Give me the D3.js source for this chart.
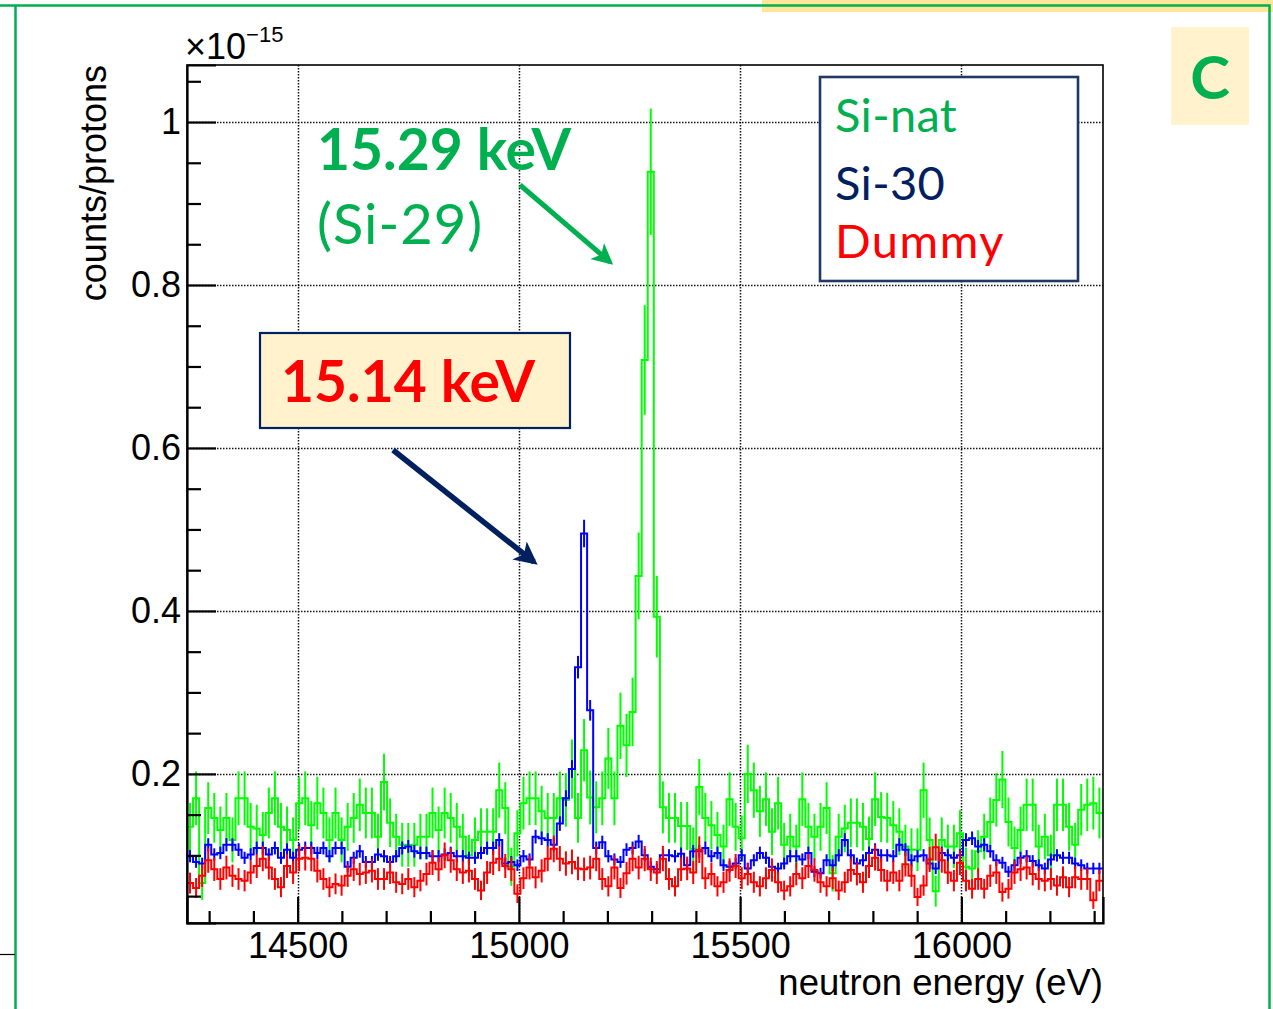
<!DOCTYPE html>
<html>
<head>
<meta charset="utf-8">
<script src="https://cdn.jsdelivr.net/npm/d3@7"></script>
<style>
  body { margin: 0; background: #fff; }
  svg { display: block; }
  .root-text { font-family: "Liberation Sans", Arial, Helvetica, sans-serif; fill: #000; }
  .office-text { font-family: Lato, "Open Sans", sans-serif; }
</style>
</head>
<body>
<div id="chart"></div>
<script>

// histogram binning (eV)
var binStart = 14250;
var binWidth = 13.7;

// counts/protons per bin, in units of 1e-15
var siNat = [
	0.135, 0.17, 0.066, 0.158, 0.146, 0.131, 0.146, 0.119, 0.17, 0.17,
	0.135, 0.133, 0.125, 0.152, 0.17, 0.135, 0.131, 0.119, 0.164, 0.17,
	0.137, 0.164, 0.152, 0.119, 0.152, 0.119, 0.135, 0.146, 0.162, 0.152,
	0.152, 0.123, 0.19, 0.14, 0.123, 0.113, 0.113, 0.113, 0.123, 0.123,
	0.152, 0.131, 0.152, 0.146, 0.135, 0.123, 0.1, 0.119, 0.129, 0.129,
	0.129, 0.18, 0.158, 0.086, 0.127, 0.164, 0.17, 0.17, 0.154, 0.146,
	0.146, 0.17, 0.168, 0.206, 0.146, 0.229, 0.171, 0.159, 0.17, 0.219,
	0.17, 0.259, 0.235, 0.276, 0.443, 0.708, 0.939, 0.393, 0.159, 0.146,
	0.146, 0.136, 0.136, 0.108, 0.184, 0.146, 0.137, 0.125, 0.111, 0.169,
	0.135, 0.121, 0.2, 0.18, 0.154, 0.169, 0.129, 0.164, 0.113, 0.123,
	0.111, 0.169, 0.135, 0.123, 0.135, 0.158, 0.078, 0.123, 0.133, 0.14,
	0.14, 0.135, 0.12, 0.169, 0.147, 0.146, 0.137, 0.129, 0.111, 0.107,
	0.107, 0.18, 0.119, 0.056, 0.119, 0.111, 0.111, 0.127, 0.086, 0.084,
	0.105, 0.123, 0.141, 0.168, 0.193, 0.141, 0.109, 0.131, 0.162, 0.162,
	0.111, 0.123, 0.1, 0.162, 0.162, 0.135, 0.113, 0.156, 0.162, 0.164,
	0.152
];

var si30 = [
	0.099, 0.092, 0.09, 0.113, 0.101, 0.103, 0.113, 0.113, 0.107, 0.097,
	0.101, 0.109, 0.109, 0.101, 0.109, 0.097, 0.107, 0.097, 0.107, 0.109,
	0.109, 0.103, 0.109, 0.099, 0.109, 0.109, 0.086, 0.097, 0.105, 0.092,
	0.092, 0.101, 0.099, 0.092, 0.099, 0.109, 0.111, 0.105, 0.103, 0.103,
	0.099, 0.099, 0.101, 0.103, 0.099, 0.099, 0.097, 0.097, 0.103, 0.109,
	0.109, 0.119, 0.09, 0.092, 0.088, 0.099, 0.095, 0.123, 0.121, 0.119,
	0.113, 0.139, 0.17, 0.206, 0.331, 0.495, 0.278, 0.109, 0.116, 0.099,
	0.095, 0.092, 0.107, 0.109, 0.117, 0.1, 0.086, 0.083, 0.1, 0.1,
	0.099, 0.102, 0.088, 0.105, 0.105, 0.109, 0.099, 0.103, 0.088, 0.086,
	0.09, 0.1, 0.084, 0.094, 0.103, 0.097, 0.086, 0.084, 0.09, 0.099,
	0.099, 0.095, 0.103, 0.08, 0.078, 0.094, 0.088, 0.1, 0.119, 0.1,
	0.09, 0.094, 0.103, 0.107, 0.1, 0.1, 0.099, 0.113, 0.107, 0.094,
	0.099, 0.1, 0.09, 0.084, 0.103, 0.1, 0.097, 0.1, 0.119, 0.121,
	0.111, 0.113, 0.105, 0.094, 0.091, 0.08, 0.088, 0.097, 0.099, 0.093,
	0.088, 0.084, 0.095, 0.1, 0.097, 0.097, 0.09, 0.088, 0.084, 0.084,
	0.084
];

var dummy = [
	0.066, 0.06, 0.075, 0.094, 0.083, 0.071, 0.085, 0.075, 0.071, 0.069,
	0.079, 0.087, 0.096, 0.085, 0.071, 0.061, 0.087, 0.079, 0.096, 0.097,
	0.096, 0.081, 0.071, 0.061, 0.065, 0.063, 0.075, 0.083, 0.077, 0.079,
	0.081, 0.071, 0.071, 0.079, 0.067, 0.065, 0.071, 0.061, 0.069, 0.077,
	0.091, 0.083, 0.1, 0.094, 0.083, 0.079, 0.081, 0.071, 0.057, 0.079,
	0.091, 0.096, 0.087, 0.083, 0.053, 0.072, 0.085, 0.073, 0.081, 0.096,
	0.108, 0.096, 0.09, 0.092, 0.084, 0.083, 0.085, 0.096, 0.071, 0.062,
	0.085, 0.06, 0.078, 0.096, 0.085, 0.096, 0.083, 0.079, 0.096, 0.071,
	0.062, 0.083, 0.084, 0.079, 0.107, 0.072, 0.077, 0.062, 0.067, 0.082,
	0.087, 0.072, 0.077, 0.067, 0.062, 0.072, 0.082, 0.067, 0.057, 0.062,
	0.077, 0.072, 0.087, 0.082, 0.067, 0.062, 0.072, 0.057, 0.067, 0.082,
	0.077, 0.067, 0.087, 0.097, 0.082, 0.069, 0.079, 0.069, 0.089, 0.075,
	0.049, 0.063, 0.095, 0.11, 0.094, 0.079, 0.069, 0.091, 0.069, 0.059,
	0.071, 0.059, 0.075, 0.079, 0.055, 0.059, 0.079, 0.083, 0.085, 0.077,
	0.071, 0.069, 0.071, 0.063, 0.073, 0.061, 0.073, 0.071, 0.071, 0.045,
	0.069
];

// statistical error scale per sample (error = k * sqrt(value))
var errScale = { siNat: 0.08, si30: 0.024, dummy: 0.05 };

var seriesNames = ["Si-nat", "Si-30", "Dummy"];

var yMajor = [0.2, 0.4, 0.6, 0.8, 1.0];
var yMinor = [0.05, 0.1, 0.15, 0.25, 0.3, 0.35, 0.45, 0.5, 0.55, 0.65, 0.7, 0.75, 0.85, 0.9, 0.95, 1.05];
var xMajor = [14500, 15000, 15500, 16000];
var xMinor = [14300, 14400, 14600, 14700, 14800, 14900, 15100, 15200, 15300, 15400,
	15600, 15700, 15800, 15900, 16100, 16200, 16300];

var colors = {
	green: "#00b050",
	navy: "#002060",
	red: "#ff0000",
	boxFill: "#fff2cc"
};

function init() {

	var width = 1273;
	var height = 1009;

	var svg = d3.select("#chart")
		.append("svg")
		.attr("width", width)
		.attr("height", height);

	drawSlideFrame(svg, width, height);
	drawHistogramPad(svg);
	drawAnnotations(svg);
}

/**
 * slide decoration: green border, yellow strip and the panel letter
 */
function drawSlideFrame(svg, width, height) {

	svg.append("rect")
		.attr("x", 762).attr("y", 0)
		.attr("width", width - 762).attr("height", 12)
		.attr("fill", "#ffe699");

	svg.append("path")
		.attr("d", "M0,5.5 H1269.5 V" + height + " M15.5,5.5 V" + height)
		.attr("fill", "none")
		.attr("stroke", colors.green)
		.attr("stroke-width", 2.5);

	svg.append("line")
		.attr("x1", 0).attr("x2", 15)
		.attr("y1", 954.5).attr("y2", 954.5)
		.attr("stroke", "#000")
		.attr("stroke-width", 1.2);

	svg.append("rect")
		.attr("x", 1171).attr("y", 27)
		.attr("width", 78).attr("height", 98)
		.attr("fill", colors.boxFill);

	svg.append("text")
		.attr("class", "office-text")
		.attr("x", 1210).attr("y", 99)
		.attr("text-anchor", "middle")
		.attr("font-size", 60)
		.attr("font-weight", "bold")
		.attr("fill", colors.green)
		.text("C");
}

/**
 * ROOT style canvas: frame, axes, grid and the three histograms
 */
function drawHistogramPad(svg) {

	var left = 187, right = 1103, top = 65, bottom = 923;

	var x = d3.scaleLinear().domain([14250, 16320]).range([left, right]);
	var y = d3.scaleLinear().domain([0.017, 1.07]).range([bottom, top]);

	var pad = svg.append("g");

	// dotted grid at the major ticks
	pad.append("g")
		.selectAll("line.gx")
		.data(xMajor)
		.enter()
		.append("line")
		.attr("x1", function(d) { return Math.round(x(d)) + 0.5; })
		.attr("x2", function(d) { return Math.round(x(d)) + 0.5; })
		.attr("y1", top).attr("y2", bottom)
		.attr("stroke", "#111")
		.attr("stroke-width", 1.5)
		.attr("stroke-dasharray", "1.5,1.5");

	pad.append("g")
		.selectAll("line.gy")
		.data(yMajor)
		.enter()
		.append("line")
		.attr("x1", left).attr("x2", right)
		.attr("y1", function(d) { return Math.round(y(d)) + 0.5; })
		.attr("y2", function(d) { return Math.round(y(d)) + 0.5; })
		.attr("stroke", "#111")
		.attr("stroke-width", 1.5)
		.attr("stroke-dasharray", "1.5,1.5");

	// histograms, clipped to the frame
	svg.append("clipPath")
		.attr("id", "frameClip")
		.append("rect")
		.attr("x", left).attr("y", top)
		.attr("width", right - left).attr("height", bottom - top);

	var hists = pad.append("g").attr("clip-path", "url(#frameClip)");

	drawHist(hists, siNat, errScale.siNat, "#00ff00", x, y);
	drawHist(hists, si30, errScale.si30, "#0000ff", x, y);
	drawHist(hists, dummy, errScale.dummy, "#ff0000", x, y);

	// frame
	pad.append("rect")
		.attr("x", left).attr("y", top)
		.attr("width", right - left).attr("height", bottom - top)
		.attr("fill", "none")
		.attr("stroke", "#000")
		.attr("stroke-width", 1.6);

	// y axis: major + minor ticks pointing inside
	var yAxis = d3.axisLeft(y)
		.tickValues(yMajor)
		.tickSize(-29)
		.tickPadding(6)
		.tickFormat(function(d) { return d === 1 ? "1" : d3.format(".1f")(d); });

	var yMinorAxis = d3.axisLeft(y)
		.tickValues(yMinor)
		.tickSize(-14)
		.tickFormat("");

	pad.append("g")
		.attr("transform", "translate(" + left + ",0)")
		.call(yAxis);
	pad.append("g")
		.attr("transform", "translate(" + left + ",0)")
		.call(yMinorAxis)
		.select(".domain").remove();

	// x axis
	var xAxis = d3.axisBottom(x)
		.tickValues(xMajor)
		.tickSize(-26)
		.tickPadding(9)
		.tickFormat(d3.format("d"));

	var xMinorAxis = d3.axisBottom(x)
		.tickValues(xMinor)
		.tickSize(-12)
		.tickFormat("");

	pad.append("g")
		.attr("transform", "translate(0," + bottom + ")")
		.call(xAxis);
	pad.append("g")
		.attr("transform", "translate(0," + bottom + ")")
		.call(xMinorAxis)
		.select(".domain").remove();

	pad.selectAll(".domain, .tick line")
		.attr("stroke", "#000")
		.attr("stroke-width", 2.2);

	pad.selectAll(".tick text")
		.attr("class", "root-text")
		.attr("font-size", 36)
		.attr("fill", "#000");

	// axis titles
	pad.append("text")
		.attr("class", "root-text")
		.attr("x", right).attr("y", 995)
		.attr("text-anchor", "end")
		.attr("font-size", 36.5)
		.text("neutron energy (eV)");

	pad.append("text")
		.attr("class", "root-text")
		.attr("transform", "translate(106," + top + ") rotate(-90)")
		.attr("text-anchor", "end")
		.attr("font-size", 36)
		.text("counts/protons");

	// common exponent of the y axis
	var expo = pad.append("text")
		.attr("class", "root-text")
		.attr("x", left - 2).attr("y", 59)
		.attr("font-size", 36);
	expo.append("tspan").text("\u00d710");
	expo.append("tspan")
		.attr("dy", -17)
		.attr("font-size", 22)
		.text("\u221215");

	// legend
	var legend = pad.append("g");
	legend.append("rect")
		.attr("x", 820).attr("y", 77)
		.attr("width", 258).attr("height", 204)
		.attr("fill", "#fff")
		.attr("stroke", "#1f3864")
		.attr("stroke-width", 2.6);

	var legendColors = [colors.green, colors.navy, colors.red];
	var legendY = [132, 200, 258];

	legend.selectAll("text")
		.data(seriesNames)
		.enter()
		.append("text")
		.attr("class", "office-text")
		.attr("x", 835)
		.attr("y", function(d, i) { return legendY[i]; })
		.attr("font-size", 47)
		.attr("letter-spacing", function(d, i) { return i === 2 ? 1.5 : 0.3; })
		.attr("fill", function(d, i) { return legendColors[i]; })
		.text(function(d) { return d; });
}

/**
 * one histogram: step outline plus vertical error bars at bin centres
 */
function drawHist(g, values, k, color, x, y) {

	var bins = values.map(function(v, i) {
		var lo = binStart + i * binWidth;
		return { lo: lo, hi: lo + binWidth, v: v, err: k * Math.sqrt(v) };
	});

	var pts = [];
	bins.forEach(function(b) {
		pts.push([x(b.lo), y(b.v)]);
		pts.push([x(b.hi), y(b.v)]);
	});

	g.append("path")
		.attr("d", d3.line()(pts))
		.attr("fill", "none")
		.attr("stroke", color)
		.attr("stroke-width", 2);

	g.append("g")
		.selectAll("line")
		.data(bins)
		.enter()
		.append("line")
		.attr("x1", function(b) { return x((b.lo + b.hi) / 2); })
		.attr("x2", function(b) { return x((b.lo + b.hi) / 2); })
		.attr("y1", function(b) { return y(b.v - b.err); })
		.attr("y2", function(b) { return y(b.v + b.err); })
		.attr("stroke", color)
		.attr("stroke-width", 2);
}

/**
 * resonance labels and arrows
 */
function drawAnnotations(svg) {

	var defs = svg.append("defs");

	[["headGreen", colors.green], ["headNavy", colors.navy]].forEach(function(m) {
		defs.append("marker")
			.attr("id", m[0])
			.attr("viewBox", "0 0 10 10")
			.attr("refX", 8).attr("refY", 5)
			.attr("markerWidth", 4.2).attr("markerHeight", 4.2)
			.attr("orient", "auto")
			.append("path")
			.attr("d", "M0,0 L10,5 L0,10 L2.5,5 Z")
			.attr("fill", m[1]);
	});

	var ann = svg.append("g");

	ann.append("text")
		.attr("class", "office-text")
		.attr("x", 317).attr("y", 170)
		.attr("font-size", 57)
		.attr("font-weight", "bold")
		.attr("fill", colors.green)
		.text("15.29 keV");

	ann.append("text")
		.attr("class", "office-text")
		.attr("x", 317).attr("y", 244)
		.attr("font-size", 56)
		.attr("letter-spacing", 1)
		.attr("fill", colors.green)
		.text("(Si-29)");

	ann.append("line")
		.attr("x1", 520).attr("y1", 185)
		.attr("x2", 610).attr("y2", 262)
		.attr("stroke", colors.green)
		.attr("stroke-width", 5)
		.attr("marker-end", "url(#headGreen)");

	ann.append("rect")
		.attr("x", 260).attr("y", 333)
		.attr("width", 310).attr("height", 95)
		.attr("fill", colors.boxFill)
		.attr("stroke", colors.navy)
		.attr("stroke-width", 2.2);

	ann.append("text")
		.attr("class", "office-text")
		.attr("x", 281).attr("y", 402)
		.attr("font-size", 57)
		.attr("font-weight", "bold")
		.attr("fill", colors.red)
		.text("15.14 keV");

	ann.append("line")
		.attr("x1", 393).attr("y1", 450)
		.attr("x2", 534).attr("y2", 562)
		.attr("stroke", colors.navy)
		.attr("stroke-width", 5.5)
		.attr("marker-end", "url(#headNavy)");
}

init();

</script>
</body>
</html>
